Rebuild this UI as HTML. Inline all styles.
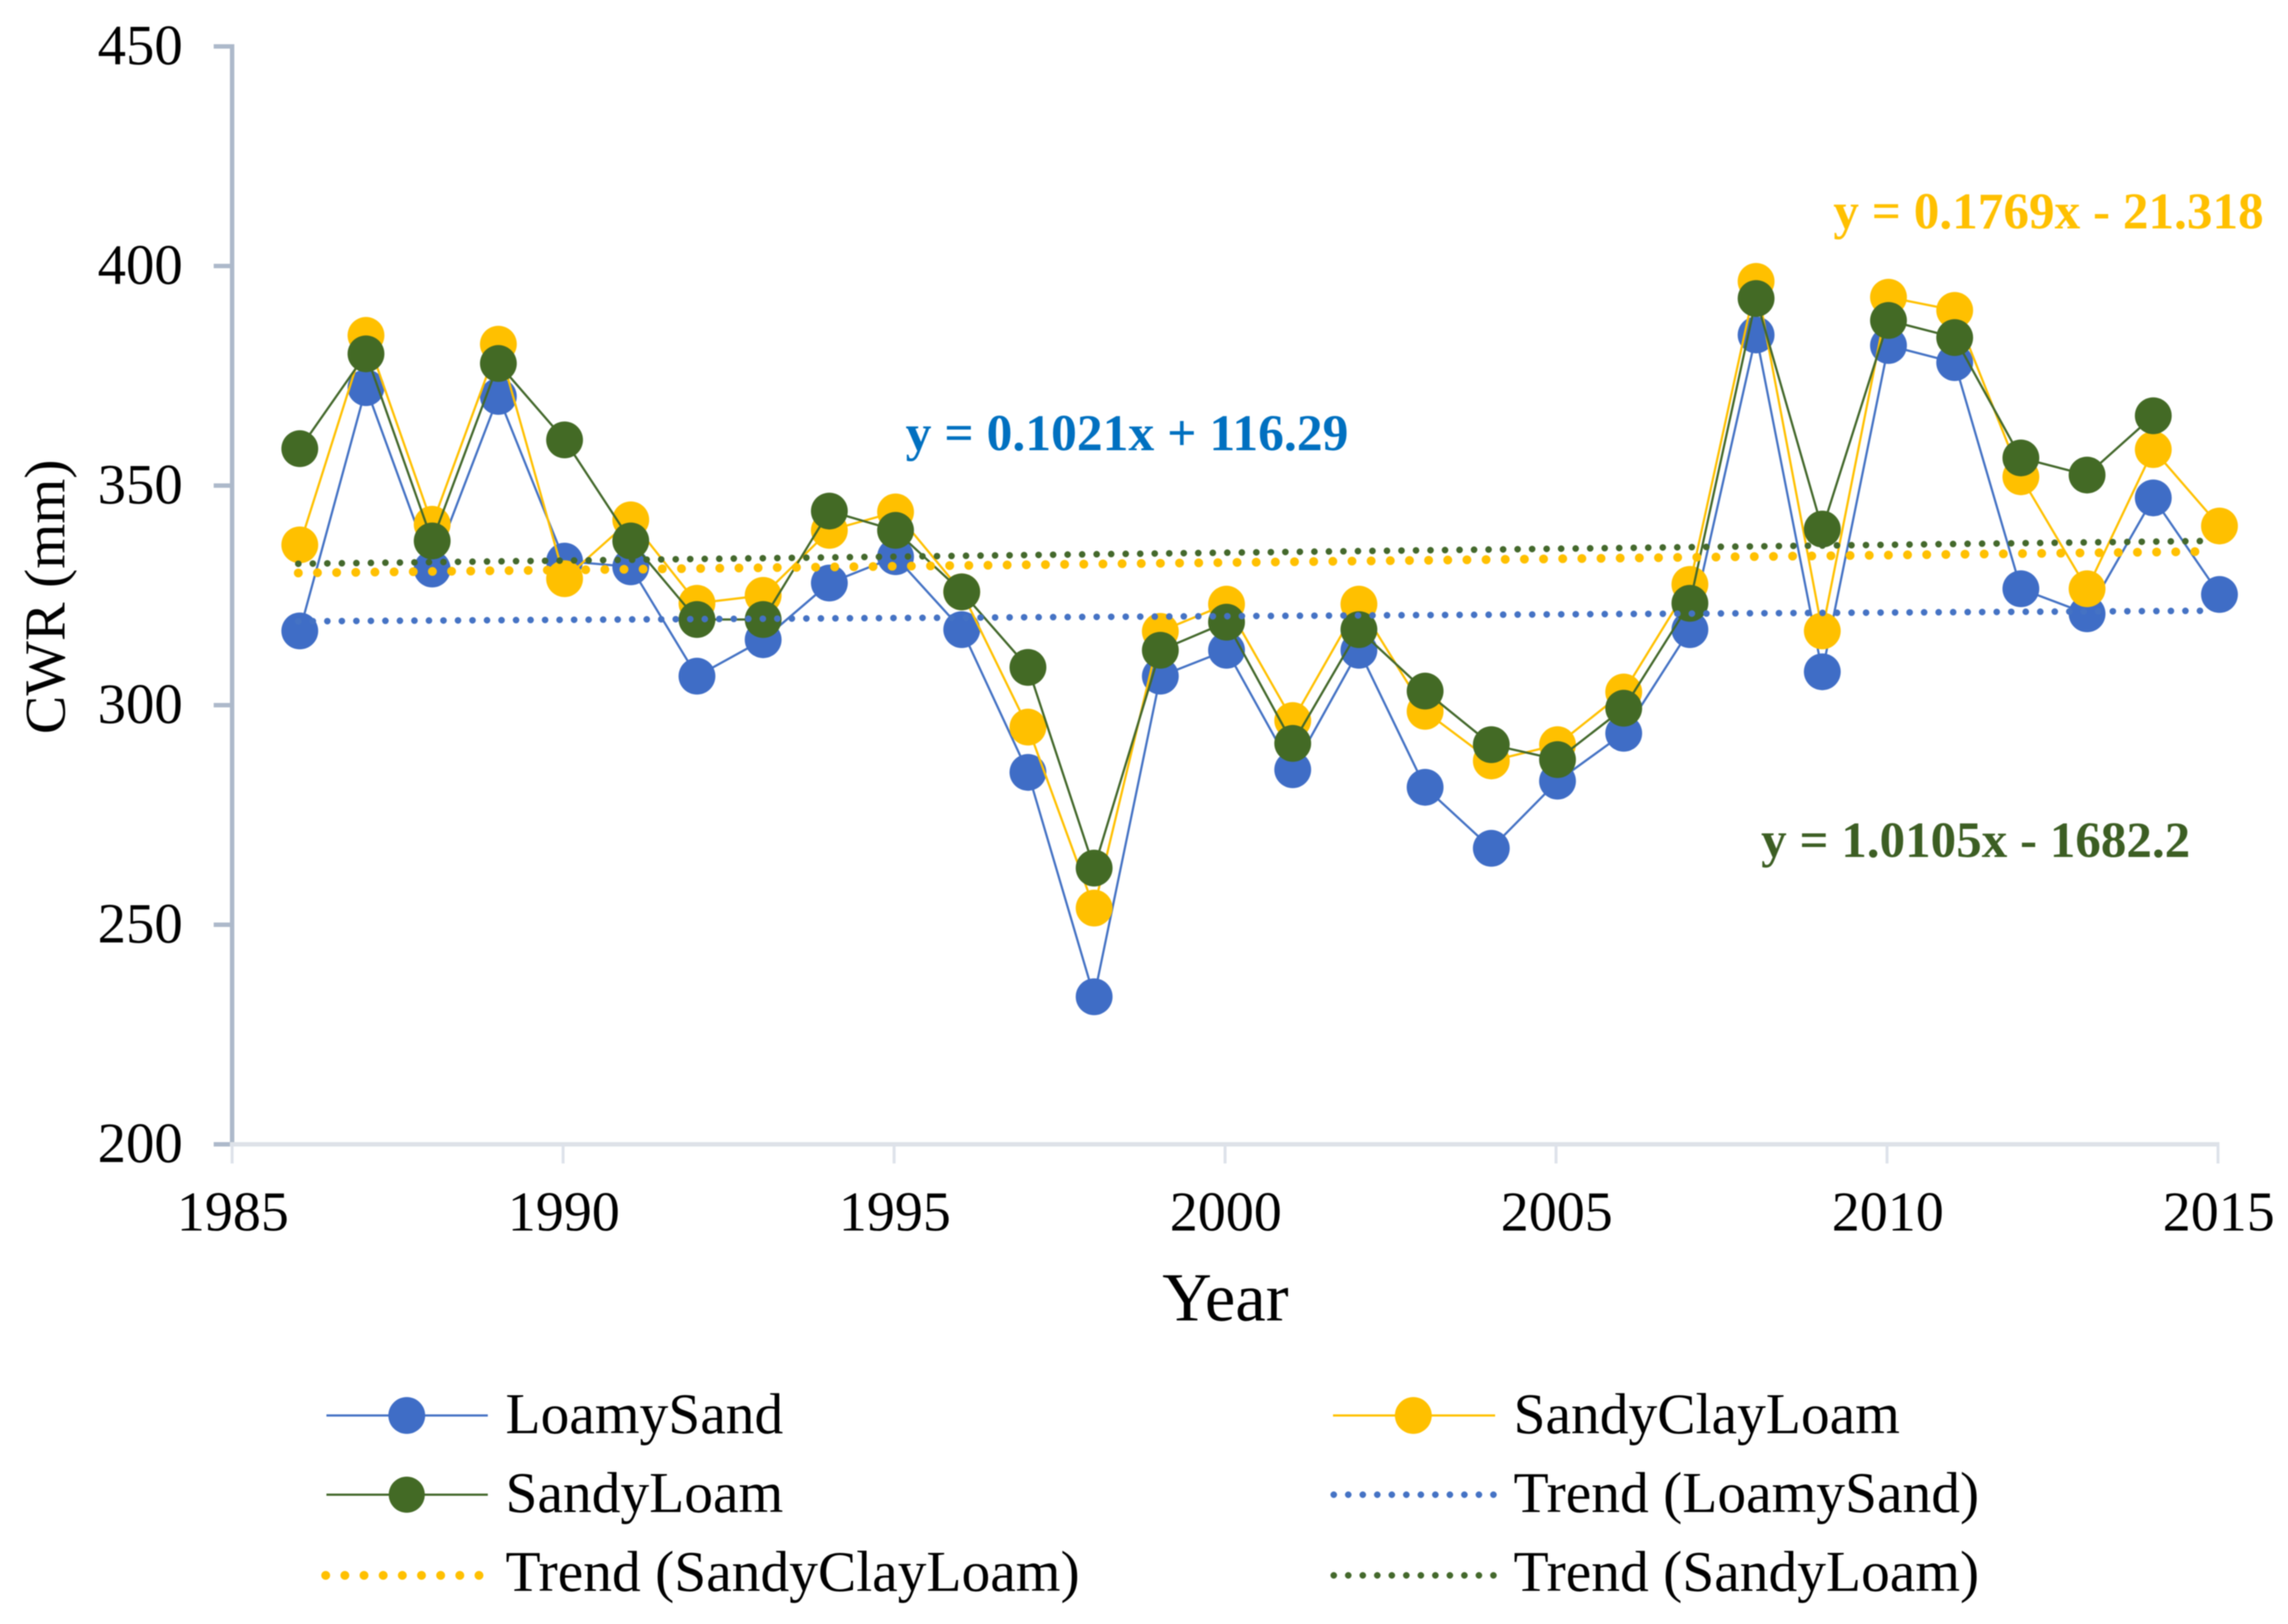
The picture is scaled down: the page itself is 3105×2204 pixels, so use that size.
<!DOCTYPE html>
<html lang="en">
<head>
<meta charset="utf-8">
<title>CWR by soil type, 1986-2015</title>
<style>
html,body{margin:0;padding:0;background:#fff;}
svg{display:block;font-family:"Liberation Serif",serif;filter:blur(0.7px);}
</style>
</head>
<body>
<svg id="chart" xmlns="http://www.w3.org/2000/svg" width="3105" height="2204" viewBox="0 0 3105 2204">
  <rect x="0" y="0" width="3105" height="2204" fill="#fff"/>
  <g id="axes"></g>
  <g id="series"></g>
  <g id="trends"></g>

  <text transform="translate(87.5,810) rotate(-90)" text-anchor="middle" font-size="78.5" fill="#000">CWR (mm)</text>
  <text x="1663" y="1792" text-anchor="middle" font-size="93" fill="#000">Year</text>

  <text x="1229" y="611" font-size="70" font-weight="bold" fill="#0070C0">y = 0.1021x + 116.29</text>
  <text x="2488" y="310" font-size="69.5" font-weight="bold" fill="#FFC000">y = 0.1769x - 21.318</text>
  <text x="2390" y="1163" font-size="69.3" font-weight="bold" fill="#3C5E23">y = 1.0105x - 1682.2</text>

  <g font-size="78" fill="#000">
    <g>
      <line x1="443" x2="662" y1="1921" y2="1921" stroke="#4472C4" stroke-width="3"/>
      <circle cx="552" cy="1921" r="25" fill="#3F6DC6"/>
      <text x="686" y="1945">LoamySand</text>
    </g>
    <g>
      <line x1="1809" x2="2029" y1="1921" y2="1921" stroke="#FFC000" stroke-width="3"/>
      <circle cx="1918" cy="1921" r="25" fill="#FFC000"/>
      <text x="2054" y="1945">SandyClayLoam</text>
    </g>
    <g>
      <line x1="443" x2="662" y1="2028.5" y2="2028.5" stroke="#43682B" stroke-width="3"/>
      <circle cx="552" cy="2028.5" r="24.5" fill="#436A25"/>
      <text x="686" y="2052">SandyLoam</text>
    </g>
    <g>
      <line x1="1810" x2="2032" y1="2028.5" y2="2028.5" stroke="#4472C4" stroke-width="9" stroke-linecap="round" stroke-dasharray="0 19.7"/>
      <text x="2054" y="2052">Trend (LoamySand)</text>
    </g>
    <g>
      <line x1="442" x2="660" y1="2138" y2="2138" stroke="#FFC000" stroke-width="12" stroke-linecap="round" stroke-dasharray="0 26"/>
      <text x="686" y="2159">Trend (SandyClayLoam)</text>
    </g>
    <g>
      <line x1="1810" x2="2032" y1="2138" y2="2138" stroke="#43682B" stroke-width="9" stroke-linecap="round" stroke-dasharray="0 19.7"/>
      <text x="2054" y="2159">Trend (SandyLoam)</text>
    </g>
  </g>
</svg>

<script>
const years = [1986,1987,1988,1989,1990,1991,1992,1993,1994,1995,1996,1997,1998,1999,2000,2001,2002,2003,2004,2005,2006,2007,2008,2009,2010,2011,2012,2013,2014,2015];
const loamySand = [316.9,372.3,331,370.3,332.8,331.5,306.6,314.9,327.8,333.8,317.2,284.7,233.6,306.6,312.5,285.3,312.5,281.3,267.4,282.7,293.6,317.2,384.3,307.6,381.9,378,326.5,320.8,347.2,325.2];
const sandyClayLoam = [336.5,384.2,341.2,382.2,328.8,342.2,323.2,325,339.8,344,325.8,295,253.8,316.8,323,296.5,323,298.6,287.3,291,303,327.5,396.5,316.9,392.9,389.9,352,326.5,358.2,340.8];
const sandyLoam = [358.4,380,337.4,377.8,360.4,337.4,319.5,319.5,344.2,339.8,325.8,308.6,262.9,312.5,318.9,291.3,317.2,303.2,291,287.6,299.3,323.2,392.6,340.1,387.6,383.7,356.3,352.4,365.9,null];
const trendYears = [1986,2014.9];
const trendLoamySand = [319.1,321.5];
const trendSandyClayLoam = [330.1,335];
const trendSandyLoam = [332.2,337.4];
const xTickLabels = [1985,1990,1995,2000,2005,2010,2015];
const yTickLabels = [200,250,300,350,400,450];

const NS = 'http://www.w3.org/2000/svg';
const xAt = function (year) { return 315 + (year - 1985) * (3010 - 315) / 30; };
const yAt = function (value) { return 1553 - (value - 200) * (1553 - 63) / 250; };
const SERIES_X_SHIFT = 2;
const make = function (parent, tag) {
  const node = document.createElementNS(NS, tag);
  parent.appendChild(node);
  return node;
};
const put = function (node, props) {
  Object.keys(props).forEach(function (k) { node.setAttribute(k, props[k]); });
};

const axes = document.getElementById('axes');

const yAxis = make(axes, 'line');


put(yAxis, {x1: 315, x2: 315, y1: yAt(450) - 3, y2: yAt(200), stroke: '#ADB9CA', 'stroke-width': 6});

yTickLabels.forEach(function (v) {
  const tick = make(axes, 'line');
  
  
  put(tick, {x1: 290, x2: 315, y1: yAt(v), y2: yAt(v), stroke: '#ADB9CA', 'stroke-width': 6});
  const label = make(axes, 'text');
  
  
  put(label, {x: 248, y: yAt(v) + 24, 'text-anchor': 'end', 'font-size': 77, fill: '#000'});
  label.textContent = v;
});

const xAxis = make(axes, 'line');


put(xAxis, {x1: xAt(1985) - 3, x2: xAt(2015) + 2, y1: 1553, y2: 1553, stroke: '#DEE2E8', 'stroke-width': 6});

xTickLabels.forEach(function (v) {
  const tick = make(axes, 'line');
  
  
  put(tick, {x1: xAt(v), x2: xAt(v), y1: 1553, y2: 1579, stroke: '#DDE2EA', 'stroke-width': 4});
  const label = make(axes, 'text');
  
  
  put(label, {x: xAt(v) + 1, y: 1670, 'text-anchor': 'middle', 'font-size': 76, fill: '#000'});
  label.textContent = v;
});

const seriesGroup = document.getElementById('series');

function drawSeries(values, slug, lineColor, markerColor) {
  const group = make(seriesGroup, 'g');
  
  
  const pts = [];
  values.forEach(function (v, i) {
    if (v !== null) { pts.push((xAt(years[i]) + SERIES_X_SHIFT).toFixed(1) + ',' + yAt(v).toFixed(1)); }
  });
  const line = make(group, 'polyline');
  
  
  put(line, {points: pts.join(' '), fill: 'none', stroke: lineColor, 'stroke-width': 3});
  values.forEach(function (v, i) {
    if (v === null) { return; }
    const dot = make(group, 'circle');
    
    
    put(dot, {cx: xAt(years[i]) + SERIES_X_SHIFT, cy: yAt(v), r: 25, fill: markerColor});
  });
}

drawSeries(loamySand, 'loamy-sand', '#4472C4', '#3F6DC6');
drawSeries(sandyClayLoam, 'sandy-clay-loam', '#FFC000', '#FFC000');
drawSeries(sandyLoam, 'sandy-loam', '#43682B', '#436A25');

const trendGroup = document.getElementById('trends');

function drawTrend(values, slug, color, width, gap) {
  const t = make(trendGroup, 'line');
  
  
  put(t, {
    x1: xAt(trendYears[0]), y1: yAt(values[0]),
    x2: xAt(trendYears[1]), y2: yAt(values[1]),
    stroke: color, 'stroke-width': width, 'stroke-linecap': 'round', 'stroke-dasharray': '0 ' + gap
  });
}

drawTrend(trendLoamySand, 'loamy-sand', '#4472C4', 9, 19.7);
drawTrend(trendSandyClayLoam, 'sandy-clay-loam', '#FFC000', 12, 26);
drawTrend(trendSandyLoam, 'sandy-loam', '#43682B', 9, 19.7);
</script>
</body>
</html>
